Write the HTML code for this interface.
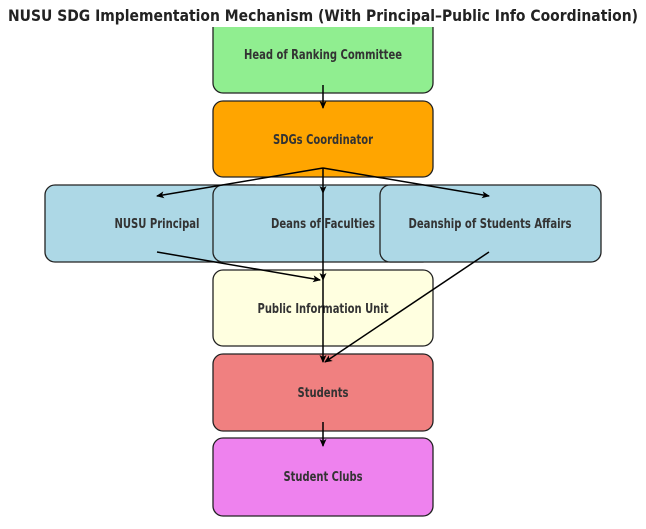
<!DOCTYPE html>
<html><head><meta charset="utf-8"><style>
html,body{margin:0;padding:0;background:#fff;width:646px;height:529px;overflow:hidden}
svg{display:block}
text{font-family:"DejaVu Sans","Liberation Sans",sans-serif;font-weight:bold;fill:#333}
</style></head><body>
<svg width="646" height="529" viewBox="0 0 646 529">
<defs><marker id="a" markerWidth="8" markerHeight="8" refX="7" refY="4" orient="auto" markerUnits="userSpaceOnUse"><path d="M0,0.5 L8,4 L0,7.5 L2,4 Z" fill="#000"/></marker></defs>
<g stroke="#222" stroke-width="1.3">
<rect x="213" y="15" width="220" height="78" rx="10" fill="#90ee90"/>
<rect x="213" y="101" width="220" height="76" rx="10" fill="#ffa500"/>
<rect x="45" y="185" width="220" height="77" rx="10" fill="#add8e6"/>
<rect x="213" y="185" width="220" height="77" rx="10" fill="#add8e6"/>
<rect x="380" y="185" width="221" height="77" rx="10" fill="#add8e6"/>
<rect x="213" y="270" width="220" height="76" rx="10" fill="#ffffe0"/>
<rect x="213" y="354" width="220" height="77" rx="10" fill="#f08080"/>
<rect x="213" y="438" width="220" height="78" rx="10" fill="#ee82ee"/>
</g>
<rect x="0" y="0" width="646" height="27" fill="#fff"/>
<text x="323" y="21" font-size="16" text-anchor="middle" textLength="630" lengthAdjust="spacingAndGlyphs" style="fill:#222">NUSU SDG Implementation Mechanism (With Principal–Public Info Coordination)</text>
<g text-anchor="middle" style="font-size:13px">
<text x="323" y="59" textLength="158" lengthAdjust="spacingAndGlyphs">Head of Ranking Committee</text>
<text x="323" y="144" textLength="100" lengthAdjust="spacingAndGlyphs">SDGs Coordinator</text>
<text x="157" y="228" textLength="85" lengthAdjust="spacingAndGlyphs">NUSU Principal</text>
<text x="323" y="228" textLength="104" lengthAdjust="spacingAndGlyphs">Deans of Faculties</text>
<text x="490" y="228" textLength="163" lengthAdjust="spacingAndGlyphs">Deanship of Students Affairs</text>
<text x="323" y="313" textLength="131" lengthAdjust="spacingAndGlyphs">Public Information Unit</text>
<text x="323" y="397" textLength="51" lengthAdjust="spacingAndGlyphs">Students</text>
<text x="323" y="481" textLength="79" lengthAdjust="spacingAndGlyphs">Student Clubs</text>
</g>
<g stroke="#000" stroke-width="1.5" fill="none" marker-end="url(#a)">
<line x1="323" y1="85" x2="323" y2="108"/>
<line x1="323" y1="168" x2="157" y2="196"/>
<line x1="323" y1="168" x2="323" y2="193"/>
<line x1="323" y1="168" x2="489" y2="196"/>
<line x1="323" y1="193" x2="323" y2="280"/>
<line x1="323" y1="280" x2="323" y2="362"/>
<line x1="157" y1="252" x2="320" y2="280"/>
<line x1="489" y1="252" x2="325" y2="362"/>
<line x1="323" y1="422" x2="323" y2="446"/>
</g>
</svg>
</body></html>
